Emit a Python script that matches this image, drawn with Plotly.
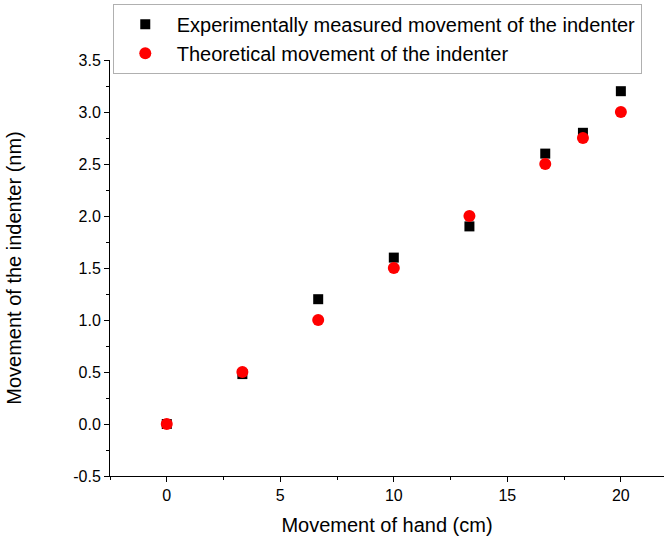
import plotly.graph_objects as go

hand_cm = [0, 3.33, 6.67, 10, 13.33, 16.67, 18.33, 20]
measured_nm = [0, 0.48, 1.2, 1.6, 1.9, 2.6, 2.8, 3.2]
theoretical_nm = [0, 0.5, 1.0, 1.5, 2.0, 2.5, 2.75, 3.0]
y_ticks = [-0.5, 0.0, 0.5, 1.0, 1.5, 2.0, 2.5, 3.0, 3.5]
x_ticks = [0, 5, 10, 15, 20]

fig = go.Figure()
fig.add_trace(go.Scatter(x=hand_cm, y=measured_nm, mode="markers",
                         name="Experimentally measured movement of the indenter",
                         marker=dict(symbol="square", color="black", size=10)))
fig.add_trace(go.Scatter(x=hand_cm, y=theoretical_nm, mode="markers",
                         name="Theoretical movement of the indenter",
                         marker=dict(symbol="circle", color="#ff0000", size=12)))

font = "Liberation Sans, Arial, sans-serif"
fig.update_layout(
    width=664, height=542,
    margin=dict(l=110, r=0, t=60, b=66),
    plot_bgcolor="white", paper_bgcolor="white",
    font=dict(family=font, color="black"),
    showlegend=True,
    legend=dict(x=0.005, y=1.135, xanchor="left", yanchor="top",
                bordercolor="#b0b0b0", borderwidth=1, bgcolor="white",
                font=dict(size=20, family=font), itemwidth=53,
                tracegroupgap=0),
    xaxis=dict(range=[-2.5, 21.9], tickvals=x_ticks, ticks="outside",
               ticklen=5, tickwidth=1, tickcolor="black",
               showline=True, linecolor="black", linewidth=1,
               showgrid=False, zeroline=False,
               minor=dict(dtick=2.5, tick0=0, ticks="outside", ticklen=3, tickcolor="black"),
               tickfont=dict(size=16),
               title=dict(text="Movement of hand (cm)", font=dict(size=20), standoff=14)),
    yaxis=dict(range=[-0.5, 3.5], tickvals=y_ticks, ticktext=[f"{v:.1f}" for v in y_ticks],
               ticks="outside", ticklen=5, tickwidth=1, tickcolor="black",
               showline=True, linecolor="black", linewidth=1,
               showgrid=False, zeroline=False,
               minor=dict(dtick=0.25, tick0=0, ticks="outside", ticklen=3, tickcolor="black"),
               tickfont=dict(size=16),
               title=dict(text="Movement of the indenter (nm)", font=dict(size=20), standoff=46)),
)
fig.write_html("out.html")
